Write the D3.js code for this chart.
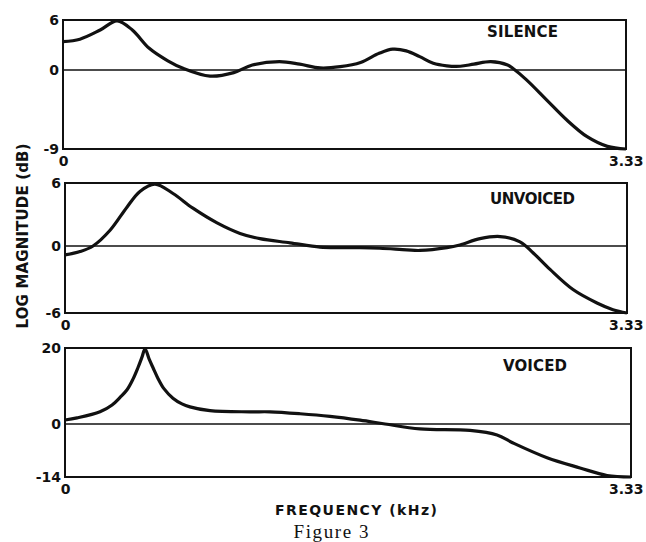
<!DOCTYPE html>
<html>
<head>
<meta charset="utf-8">
<title>Figure 3</title>
<script src="https://d3js.org/d3.v7.min.js"></script>
<style>
  body { margin: 0; background: #fff; }
  .tick text { font-family: "DejaVu Sans", Arial, sans-serif; font-weight: bold; font-size: 14px; fill: #111; }
  .lbl { font-family: "DejaVu Sans", Arial, sans-serif; font-weight: bold; fill: #111; }
</style>
</head>
<body>
<div id="chart"></div>
<script>
// frequency axis (kHz) and tick labels
var freqTicks = [0, 3.33];
var freqTickLabels = ["0", "3.33"];

// SILENCE spectrum (kHz, dB)
var silenceFreq = [0, 0.10, 0.22, 0.32, 0.41, 0.51, 0.62, 0.71, 0.87, 1.01, 1.12, 1.28, 1.40, 1.52, 1.64, 1.76,
  1.87, 1.95, 2.03, 2.11, 2.19, 2.27, 2.35, 2.43, 2.53, 2.63, 2.66, 2.74, 2.86, 2.98, 3.10, 3.22, 3.33];
var silenceDb = [3.4, 3.7, 4.8, 5.9, 4.8, 2.6, 1.1, 0.2, -0.7, -0.3, 0.6, 1.0, 0.7, 0.25, 0.4, 0.9,
  2.0, 2.5, 2.3, 1.6, 0.8, 0.5, 0.45, 0.7, 1.0, 0.6, 0.2, -1.1, -3.4, -5.7, -7.6, -8.7, -9.0];

// UNVOICED spectrum
var unvoicedFreq = [0, 0.089, 0.166, 0.267, 0.367, 0.444, 0.533, 0.640, 0.758, 0.901, 1.037, 1.155, 1.333, 1.511,
  1.629, 1.748, 1.866, 2.026, 2.103, 2.263, 2.340, 2.459, 2.578, 2.696, 2.773, 2.874, 3.010, 3.152, 3.247, 3.33];
var unvoicedDb = [-0.8, -0.5, 0, 1.5, 3.7, 5.2, 5.9, 5.0, 3.6, 2.2, 1.2, 0.7, 0.3, -0.1,
  -0.15, -0.15, -0.2, -0.35, -0.4, -0.15, 0.1, 0.7, 0.9, 0.4, -0.6, -2.1, -3.9, -5.1, -5.7, -6.0];

// VOICED spectrum
var voicedFreq = [0, 0.071, 0.206, 0.277, 0.324, 0.365, 0.400, 0.429, 0.453, 0.471, 0.494, 0.518, 0.547, 0.582,
  0.635, 0.688, 0.735, 0.853, 1.088, 1.206, 1.383, 1.559, 1.736, 1.883, 2.088, 2.383, 2.542, 2.636, 2.836, 3.030, 3.189, 3.33];
var voicedDb = [1.05, 1.6, 3.2, 5.0, 7.0, 9.0, 11.8, 14.8, 17.6, 19.8, 17.2, 14.8, 12.0, 9.3,
  6.8, 5.3, 4.5, 3.5, 3.2, 3.2, 2.7, 2.0, 1.0, 0, -1.3, -1.7, -2.9, -5.0, -8.9, -11.6, -13.6, -14.0];

// y ticks per panel
var silenceTicks = [-9, 0, 6];
var unvoicedTicks = [-6, 0, 6];
var voicedTicks = [-14, 0, 20];

var panels = [
  { name: "SILENCE", f: silenceFreq, v: silenceDb, ticks: silenceTicks,
    left: 63, right: 626, top: 20, zero: 70, bottom: 149, tx: 487, ty: 37, tw: 71 },
  { name: "UNVOICED", f: unvoicedFreq, v: unvoicedDb, ticks: unvoicedTicks,
    left: 65, right: 627, top: 183, zero: 246, bottom: 313, tx: 490, ty: 204, tw: 85 },
  { name: "VOICED", f: voicedFreq, v: voicedDb, ticks: voicedTicks,
    left: 65, right: 631, top: 348, zero: 424, bottom: 477, tx: 503, ty: 371, tw: 64 }
];

var svg = d3.select("#chart").append("svg")
  .attr("width", 646)
  .attr("height", 542);

panels.forEach(function(p) {
  var x = d3.scaleLinear().domain([0, 3.33]).range([p.left, p.right]);
  var y = d3.scaleLinear().domain(p.ticks).range([p.bottom, p.zero, p.top]);

  var g = svg.append("g");

  // frame
  g.append("rect")
    .attr("x", p.left).attr("y", p.top)
    .attr("width", p.right - p.left).attr("height", p.bottom - p.top)
    .attr("fill", "none").attr("stroke", "#111").attr("stroke-width", 2);

  // zero line
  g.append("line")
    .attr("x1", p.left).attr("x2", p.right)
    .attr("y1", y(0)).attr("y2", y(0))
    .attr("stroke", "#111").attr("stroke-width", 1.5);

  // y axis labels
  var ya = g.append("g")
    .attr("transform", "translate(" + p.left + ",0)")
    .call(d3.axisLeft(y).tickValues(p.ticks).tickSize(0).tickPadding(4)
      .tickFormat(function(d) { return d < 0 ? "-" + Math.abs(d) : d; }));
  ya.select(".domain").remove();

  // x axis labels
  var xa = g.append("g")
    .attr("transform", "translate(0," + p.bottom + ")")
    .call(d3.axisBottom(x).tickValues(freqTicks).tickSize(0).tickPadding(7)
      .tickFormat(function(d, i) { return freqTickLabels[i]; }));
  xa.select(".domain").remove();
  // the right label sits a little past the frame, ending near the page edge
  xa.selectAll(".tick text")
    .filter(function(d) { return d === 3.33; })
    .attr("text-anchor", "end")
    .attr("x", 643 - x(3.33));

  // spectrum
  var line = d3.line()
    .x(function(d, i) { return x(p.f[i]); })
    .y(function(d) { return y(d); })
    .curve(d3.curveCatmullRom.alpha(0.5));

  g.append("path")
    .datum(p.v)
    .attr("d", line)
    .attr("fill", "none")
    .attr("stroke", "#111")
    .attr("stroke-width", 3.2)
    .attr("stroke-linejoin", "round");

  g.append("text")
    .attr("class", "lbl")
    .attr("x", p.tx).attr("y", p.ty)
    .attr("textLength", p.tw)
    .attr("lengthAdjust", "spacing")
    .style("font-size", "15px")
    .text(p.name);
});

// y title
svg.append("text")
  .attr("class", "lbl")
  .attr("transform", "translate(28,236) rotate(-90)")
  .attr("text-anchor", "middle")
  .attr("textLength", 185)
  .attr("lengthAdjust", "spacing")
  .style("font-size", "15px")
  .text("LOG MAGNITUDE (dB)");

// x title
svg.append("text")
  .attr("class", "lbl")
  .attr("x", 356).attr("y", 515)
  .attr("text-anchor", "middle")
  .attr("textLength", 162)
  .attr("lengthAdjust", "spacing")
  .style("font-size", "14px")
  .text("FREQUENCY (kHz)");

svg.append("text")
  .attr("x", 331).attr("y", 538)
  .attr("text-anchor", "middle")
  .attr("textLength", 75)
  .attr("lengthAdjust", "spacing")
  .style("font-family", "'Liberation Serif', 'Times New Roman', serif")
  .style("font-size", "19px")
  .style("fill", "#111")
  .text("Figure 3");
</script>
</body>
</html>
